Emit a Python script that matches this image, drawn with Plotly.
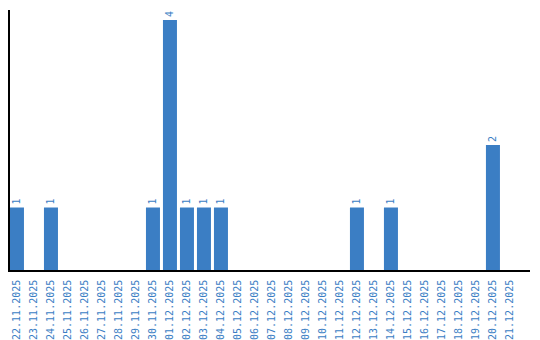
import plotly.graph_objects as go

dates = ["22.11.2025","23.11.2025","24.11.2025","25.11.2025","26.11.2025","27.11.2025",
         "28.11.2025","29.11.2025","30.11.2025","01.12.2025","02.12.2025","03.12.2025",
         "04.12.2025","05.12.2025","06.12.2025","07.12.2025","08.12.2025","09.12.2025",
         "10.12.2025","11.12.2025","12.12.2025","13.12.2025","14.12.2025","15.12.2025",
         "16.12.2025","17.12.2025","18.12.2025","19.12.2025","20.12.2025","21.12.2025"]
counts = [1,0,1,0,0,0,0,0,1,4,1,1,1,0,0,0,0,0,0,0,1,0,1,0,0,0,0,0,2,0]

blue = "#3b7ec4"
labels = [str(c) if c > 0 else "" for c in counts]

fig = go.Figure(go.Bar(
    x=list(range(len(dates))), y=counts, marker_color=blue, marker_line_width=0,
    text=labels, textposition="outside", textangle=-90, cliponaxis=False,
    textfont=dict(family="DejaVu Sans Mono", size=10, color=blue),
))
fig.update_layout(
    width=540, height=340, margin=dict(l=10, r=10, t=10, b=70),
    plot_bgcolor="white", paper_bgcolor="white", bargap=0.176, showlegend=False,
    xaxis=dict(tickmode="array", tickvals=list(range(len(dates))), ticktext=dates,
               tickangle=-90, range=[-0.41, 30.18], showgrid=False, zeroline=False,
               showline=True, linecolor="black", linewidth=1.5, ticks="",
               automargin=False, ticklabelstandoff=4,
               tickfont=dict(family="DejaVu Sans Mono", size=10, color=blue)),
    yaxis=dict(range=[0, 4.16], showgrid=False, zeroline=False, showticklabels=False,
               showline=True, linecolor="black", linewidth=1.5, ticks="",
               automargin=False),
)
fig.write_html("out.html")
